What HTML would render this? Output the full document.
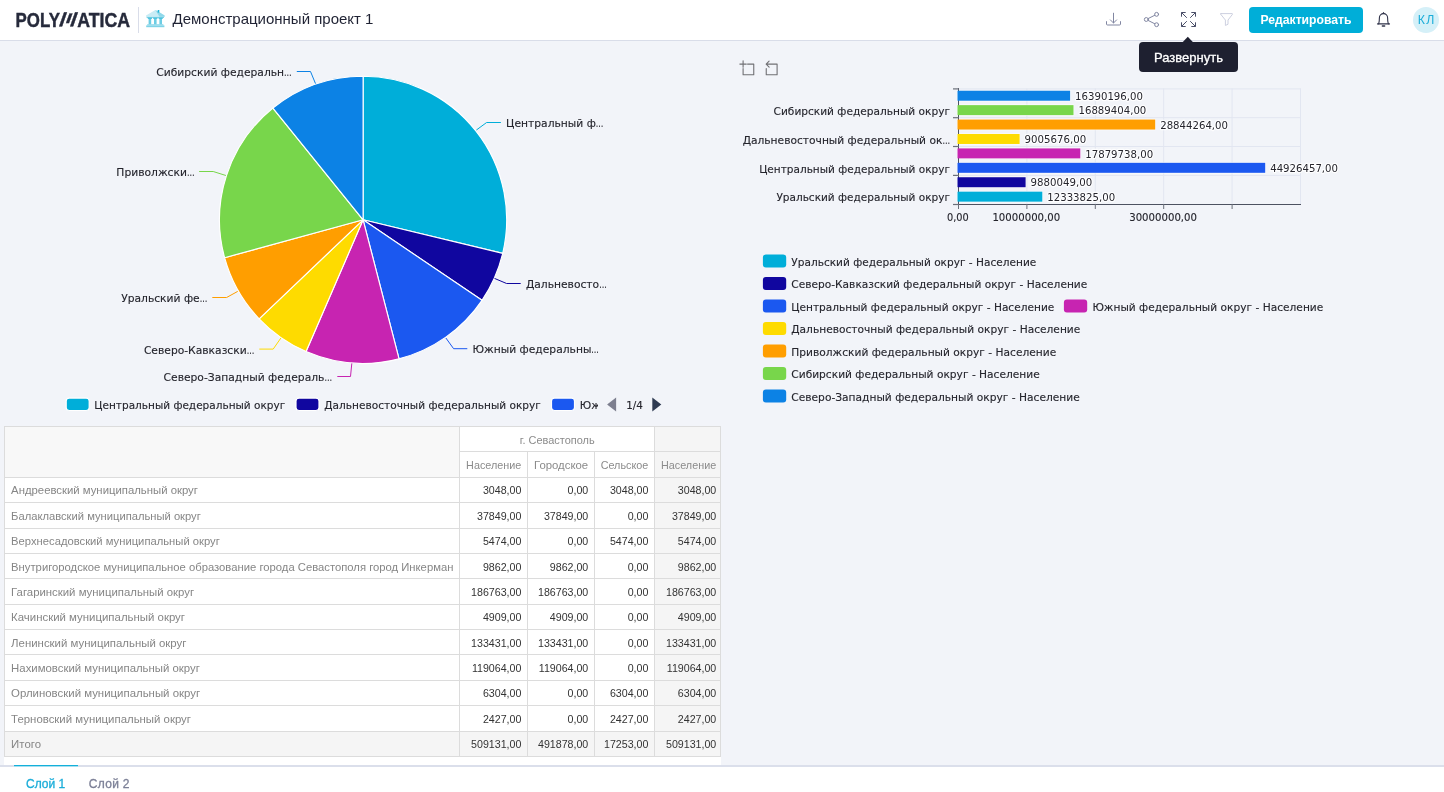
<!DOCTYPE html>
<html lang="ru">
<head>
<meta charset="utf-8">
<title>Демонстрационный проект 1</title>
<style>
*{box-sizing:border-box;margin:0;padding:0}
html,body{width:1444px;height:792px;overflow:hidden;background:#f2f4f9;font-family:"Liberation Sans", Arial, sans-serif;}
#app{position:relative;width:1444px;height:792px;overflow:hidden;background:#f2f4f9}
.abs{position:absolute}
#hdr{position:absolute;left:0;top:0;width:1444px;height:41px;background:#fff;border-bottom:1px solid #d9dde9}
#title{position:absolute;left:172.5px;top:9px;height:20px;line-height:20px;font-size:15px;color:#1f2233;white-space:nowrap}
#btn{position:absolute;left:1249px;top:7px;width:114px;height:26px;border-radius:4px;background:#00aed8;color:#fff;font-weight:bold;font-size:12.2px;line-height:27px;text-align:center;white-space:nowrap}
#ava{position:absolute;left:1413px;top:7px;width:26px;height:26px;border-radius:13px;background:#d5f0f8;color:#1badd9;font-size:12.3px;line-height:26px;text-align:center;letter-spacing:1.4px;padding-left:1.5px}
#tip{position:absolute;left:1139px;top:42px;width:99px;height:30px;border-radius:4px;background:#1e2030;color:#fff;font-size:13px;line-height:31.500px;text-align:center;white-space:nowrap;-webkit-text-stroke:0.3px #fff}
#foot{position:absolute;left:0;top:765px;width:1444px;height:27px;background:#fff;border-top:2px solid #dbdfeb}
#tabline{position:absolute;left:14px;top:765px;width:64px;height:2px;background:linear-gradient(#14b0da 0,#14b0da 50%,#a6dff0 50%,#a6dff0 100%)}
.tab{position:absolute;top:776px;height:16px;line-height:16px;font-size:12px;white-space:nowrap}
svg text{font-family:"DejaVu Sans","Liberation Sans",sans-serif;stroke:#25252d;stroke-width:.12px}
svg .lg text{font-family:"Liberation Sans", Arial, sans-serif;stroke:#262a3b;stroke-width:.45px}
svg.tbl text{font-family:"Liberation Sans", Arial, sans-serif;stroke:none}
.tb{position:absolute;background:#dcdcdc}
.tc{position:absolute;white-space:nowrap;overflow:hidden}
</style>
</head>
<body>
<div id="app">

<div id="hdr"></div>
<svg class="abs" style="left:0;top:0" width="170" height="40" viewBox="0 0 170 40">
<g class="lg" fill="#262a3b" stroke="#262a3b" stroke-width="0.45" font-weight="bold" font-size="21.1">
<text x="15.6" y="26.75" textLength="44.4" lengthAdjust="spacingAndGlyphs">POLY</text>
<text x="77.2" y="26.75" textLength="52.8" lengthAdjust="spacingAndGlyphs">ATICA</text>
</g>
<g class="lg" fill="#262a3b" font-weight="bold">
<text transform="translate(59.1,26.1) skewX(-6.5) scale(1.25,1)" font-size="19.1" style="stroke-width:.3px">/</text>
<text transform="translate(65.8,22.9) skewX(-1) scale(1.85,1)" font-size="13.2" style="stroke-width:.2px">/</text>
<text transform="translate(69.9,26.1) skewX(-6.5) scale(1.25,1)" font-size="19.1" style="stroke-width:.3px">/</text>
</g>
<rect x="138" y="7" width="1" height="26" fill="#d9dde9"/>
</svg>
<svg class="abs" style="left:145px;top:9px" width="21" height="19" viewBox="0 0 21 19">
<polygon points="1,6.6 10.3,0.9 19.6,6.6 19.6,7.8 1,7.8" fill="#c9ecf5"/>
<polygon points="10.3,0.9 13.2,2.6 19.6,6.6 19.6,7.8 14.5,7.8" fill="#8fd8ea"/>
<rect x="12.7" y="1" width="1.6" height="2.6" fill="#22b4d6"/>
<rect x="1.6" y="7.8" width="17.4" height="1.2" fill="#7fd3e7"/>
<rect x="3.6" y="9" width="2.6" height="6.6" fill="#6ccde4"/>
<rect x="9" y="9" width="2.6" height="6.6" fill="#6ccde4"/>
<rect x="14.4" y="9" width="2.6" height="6.6" fill="#6ccde4"/>
<rect x="2.8" y="8.6" width="4.2" height="1.3" fill="#4cc2de"/>
<rect x="8.2" y="8.6" width="4.2" height="1.3" fill="#4cc2de"/>
<rect x="13.6" y="8.6" width="4.2" height="1.3" fill="#4cc2de"/>
<rect x="2.2" y="15.2" width="16.2" height="1.2" fill="#8fd8ea"/>
<rect x="1.2" y="16.4" width="18.2" height="1.8" fill="#7fd3e7"/>
</svg>
<div id="title">Демонстрационный проект 1</div>
<svg class="abs" style="left:1100px;top:8px" width="140" height="24" viewBox="0 0 140 24" fill="none" stroke-linecap="round" stroke-linejoin="round">
<g stroke="#8287a2" stroke-width="1">
<path d="M13.5 5.2v9.800M10.400 11.900l3.100 3.100 3.100-3.100M6.500 13.600v2.400a1 1 0 0 0 1 1h12a1 1 0 0 0 1-1v-2.400"/>
</g>
<g stroke="#8287a2" stroke-width="1">
<circle cx="46.300" cy="11.500" r="1.950"/><circle cx="56.600" cy="6.350" r="1.950"/><circle cx="56.600" cy="16.700" r="1.950"/>
<path d="M48.100 10.600l6.700-3.350M48.100 12.400l6.700 3.400"/>
</g>
<g stroke="#4b4f68" stroke-width="1" stroke-linecap="butt" stroke-linejoin="miter">
<path d="M81.500 8.700v-4.200h4.200M81.500 4.500l5.300 5.300M95.500 8.700v-4.200h-4.200M95.500 4.500l-5.300 5.300M81.500 14.300v4.200h4.200M81.500 18.500l5.300-5.300M95.500 14.300v4.200h-4.200M95.500 18.500l-5.300-5.300"/>
</g>
<g stroke="#cdd0e0" stroke-width="1">
<path d="M121 5.600h11.200a.4.400 0 0 1 .3.650l-4.500 5.800v4.200l-2.600 1.200v-5.400l-4.700-5.800a.4.400 0 0 1 .3-.650z"/>
</g>
</svg>
<div id="btn">Редактировать</div>
<svg class="abs" style="left:1374px;top:9px" width="20" height="22" viewBox="0 0 20 22" fill="none" stroke="#30334a" stroke-width="1.1" stroke-linecap="round" stroke-linejoin="round">
<path d="M4.700 14.900C5.200 13 5.400 11.400 5.400 8.700A4.100 4.100 0 0 1 13.600 8.700C13.600 11.400 13.800 13 14.300 14.900"/>
<path d="M3.500 14.900H15.500"/>
<path d="M8.800 4.300L9.500 3.400L10.200 4.300" stroke-width="1"/>
<path d="M8.400 16.900h2.200" stroke-width="1.500"/>
</svg>
<div id="ava">КЛ</div>
<svg class="abs" style="left:1180px;top:35px" width="16" height="8" viewBox="1180 35 16 8"><polygon points="1182.3,42.5 1187.8,36.7 1193.3,42.5" fill="#1e2030"/></svg><div id="tip">Развернуть</div>
<svg class="abs" style="left:0;top:41px" width="726" height="385" viewBox="0 41 726 385">
<path d="M363.10 219.80L363.10 76.20A143.6 143.6 0 0 1 502.73 253.32Z" fill="#00aed9" stroke="#fff" stroke-width="1.15" stroke-linejoin="round"/>
<path d="M363.10 219.80L502.73 253.32A143.6 143.6 0 0 1 482.01 300.31Z" fill="#10069f" stroke="#fff" stroke-width="1.15" stroke-linejoin="round"/>
<path d="M363.10 219.80L482.01 300.31A143.6 143.6 0 0 1 399.05 358.83Z" fill="#1b58f0" stroke="#fff" stroke-width="1.15" stroke-linejoin="round"/>
<path d="M363.10 219.80L399.05 358.83A143.6 143.6 0 0 1 306.07 351.59Z" fill="#c724b1" stroke="#fff" stroke-width="1.15" stroke-linejoin="round"/>
<path d="M363.10 219.80L306.07 351.59A143.6 143.6 0 0 1 259.11 318.83Z" fill="#fedb00" stroke="#fff" stroke-width="1.15" stroke-linejoin="round"/>
<path d="M363.10 219.80L259.11 318.83A143.6 143.6 0 0 1 224.59 257.69Z" fill="#ff9e00" stroke="#fff" stroke-width="1.15" stroke-linejoin="round"/>
<path d="M363.10 219.80L224.59 257.69A143.6 143.6 0 0 1 272.92 108.04Z" fill="#78d64b" stroke="#fff" stroke-width="1.15" stroke-linejoin="round"/>
<path d="M363.10 219.80L272.92 108.04A143.6 143.6 0 0 1 363.10 76.20Z" fill="#0c82e5" stroke="#fff" stroke-width="1.15" stroke-linejoin="round"/>
<path d="M476.4 130.0L486.6 122.5L500.9 122.5" fill="none" stroke="#00aed9" stroke-width="1"/>
<text x="506.1" y="127.2" font-size="10.72" fill="#25252d">Центральный ф<tspan textLength="7.6" lengthAdjust="spacingAndGlyphs">…</tspan></text>
<path d="M494.5 278.4L506.6 283.5L520.7 283.5" fill="none" stroke="#10069f" stroke-width="1"/>
<text x="525.9" y="288.2" font-size="10.72" fill="#25252d">Дальневосто<tspan textLength="7.6" lengthAdjust="spacingAndGlyphs">…</tspan></text>
<path d="M445.9 338.0L453.6 348.7L467.3 348.7" fill="none" stroke="#1b58f0" stroke-width="1"/>
<text x="472.5" y="353.4" font-size="10.72" fill="#25252d">Южный федеральны<tspan textLength="7.6" lengthAdjust="spacingAndGlyphs">…</tspan></text>
<path d="M351.8 363.4L350.5 376.5L337.3 376.5" fill="none" stroke="#c724b1" stroke-width="1"/>
<text x="332" y="381.0" text-anchor="end" font-size="10.72" fill="#25252d">Северо-Западный федераль<tspan textLength="7.6" lengthAdjust="spacingAndGlyphs">…</tspan></text>
<path d="M280.9 338.0L273.2 349.1L259.3 349.1" fill="none" stroke="#fedb00" stroke-width="1"/>
<text x="254.3" y="354.0" text-anchor="end" font-size="10.72" fill="#25252d">Северо-Кавказски<tspan textLength="7.6" lengthAdjust="spacingAndGlyphs">…</tspan></text>
<path d="M237.7 291.4L226.6 297.5L212.3 297.5" fill="none" stroke="#ff9e00" stroke-width="1"/>
<text x="207.3" y="302.2" text-anchor="end" font-size="10.72" fill="#25252d">Уральский фе<tspan textLength="7.6" lengthAdjust="spacingAndGlyphs">…</tspan></text>
<path d="M225.9 175.5L213.2 171.5L199.1 171.5" fill="none" stroke="#78d64b" stroke-width="1"/>
<text x="194.5" y="176.3" text-anchor="end" font-size="10.72" fill="#25252d">Приволжски<tspan textLength="7.6" lengthAdjust="spacingAndGlyphs">…</tspan></text>
<path d="M315.5 83.6L310.5 71.5L296.8 71.5" fill="none" stroke="#0c82e5" stroke-width="1"/>
<text x="291.7" y="76.0" text-anchor="end" font-size="10.72" fill="#25252d">Сибирский федеральн<tspan textLength="7.6" lengthAdjust="spacingAndGlyphs">…</tspan></text>
<clipPath id="lc"><rect x="60" y="392" width="538" height="28"/></clipPath><g clip-path="url(#lc)">
<rect x="66.2" y="398.1" width="23.0" height="12.4" rx="3" ry="3" fill="#00aed9" stroke="#fff" stroke-width="1.2"/>
<text x="94.3" y="409.0" font-size="10.6" fill="#25252d" textLength="191" lengthAdjust="spacingAndGlyphs">Центральный федеральный округ</text>
<rect x="296.0" y="398.1" width="23.0" height="12.4" rx="3" ry="3" fill="#10069f" stroke="#fff" stroke-width="1.2"/>
<text x="324.3" y="409.0" font-size="10.6" fill="#25252d" textLength="216.6" lengthAdjust="spacingAndGlyphs">Дальневосточный федеральный округ</text>
<rect x="551.5" y="398.1" width="23.0" height="12.4" rx="3" ry="3" fill="#1b58f0" stroke="#fff" stroke-width="1.2"/>
<text x="579.8" y="409.0" font-size="10.6" fill="#25252d">Южный федеральный округ</text>
</g>
<polygon points="607.1,404.4 616.1,397.4 616.1,411.4" fill="#7d7f8f"/>
<polygon points="661.3,404.4 652.3,397.4 652.3,411.4" fill="#2f3b52"/>
<text x="634.6" y="409.0" text-anchor="middle" font-size="10.6" fill="#25252d" textLength="16.8" lengthAdjust="spacingAndGlyphs">1/4</text>
</svg>
<svg class="abs" style="left:726px;top:41px" width="718" height="385" viewBox="726 41 718 385">
<g fill="none" stroke="#707074" stroke-width="1.1" stroke-linejoin="round" stroke-linecap="round">
<g transform="translate(739.87,60.87) scale(0.2393)"><path d="M0,13.5h26.9 M13.5,26.9V0 M32.1,13.5H58V58H13.5 V32.1" vector-effect="non-scaling-stroke"/></g>
<g transform="translate(763.74,60.87) scale(0.2433,0.2393)"><path d="M22,1.4L9.9,13.5l12.3,12.3 M10.3,13.5H54.9v44.6 H10.3v-26" vector-effect="non-scaling-stroke"/></g>
</g>
<line x1="1026.9" y1="88.5" x2="1026.9" y2="204" stroke="#e2e6f1" stroke-width="1"/>
<line x1="1095.3" y1="88.5" x2="1095.3" y2="204" stroke="#e2e6f1" stroke-width="1"/>
<line x1="1163.7" y1="88.5" x2="1163.7" y2="204" stroke="#e2e6f1" stroke-width="1"/>
<line x1="1232.1" y1="88.5" x2="1232.1" y2="204" stroke="#e2e6f1" stroke-width="1"/>
<line x1="1300.5" y1="88.5" x2="1300.5" y2="204" stroke="#e2e6f1" stroke-width="1"/>
<line x1="958" y1="88.9" x2="1301" y2="88.9" stroke="#e2e6f1" stroke-width="1"/>
<line x1="958" y1="117.7" x2="1301" y2="117.7" stroke="#e2e6f1" stroke-width="1"/>
<line x1="958" y1="146.5" x2="1301" y2="146.5" stroke="#e2e6f1" stroke-width="1"/>
<line x1="958" y1="175.4" x2="1301" y2="175.4" stroke="#e2e6f1" stroke-width="1"/>
<rect x="957" y="90.01" width="113.6" height="11.4" fill="#fff" opacity="0.7"/>
<rect x="957" y="104.43" width="117.0" height="11.4" fill="#fff" opacity="0.7"/>
<rect x="957" y="118.85" width="198.7" height="11.4" fill="#fff" opacity="0.7"/>
<rect x="957" y="133.27" width="63.1" height="11.4" fill="#fff" opacity="0.7"/>
<rect x="957" y="147.69" width="123.8" height="11.4" fill="#fff" opacity="0.7"/>
<rect x="957" y="162.11" width="308.7" height="11.4" fill="#fff" opacity="0.7"/>
<rect x="957" y="176.53" width="69.1" height="11.4" fill="#fff" opacity="0.7"/>
<rect x="957" y="190.95" width="85.8" height="11.4" fill="#fff" opacity="0.7"/>
<line x1="958.5" y1="88" x2="958.5" y2="205" stroke="#4d5261" stroke-width="1"/>
<line x1="958" y1="204.5" x2="1301" y2="204.5" stroke="#4d5261" stroke-width="1"/>
<line x1="953" y1="88.9" x2="959" y2="88.9" stroke="#6b6f7a" stroke-width="1.2"/>
<line x1="953" y1="117.7" x2="959" y2="117.7" stroke="#6b6f7a" stroke-width="1.2"/>
<line x1="953" y1="146.5" x2="959" y2="146.5" stroke="#6b6f7a" stroke-width="1.2"/>
<line x1="953" y1="175.4" x2="959" y2="175.4" stroke="#6b6f7a" stroke-width="1.2"/>
<line x1="953" y1="204.5" x2="959" y2="204.5" stroke="#6b6f7a" stroke-width="1.2"/>
<line x1="958.5" y1="204" x2="958.5" y2="209" stroke="#6b6f7a" stroke-width="1"/>
<line x1="1026.9" y1="204" x2="1026.9" y2="209" stroke="#6b6f7a" stroke-width="1"/>
<line x1="1095.3" y1="204" x2="1095.3" y2="209" stroke="#6b6f7a" stroke-width="1"/>
<line x1="1163.7" y1="204" x2="1163.7" y2="209" stroke="#6b6f7a" stroke-width="1"/>
<line x1="1232.1" y1="204" x2="1232.1" y2="209" stroke="#6b6f7a" stroke-width="1"/>
<rect x="957.5" y="90.71" width="112.6" height="10" fill="#0c82e5"/>
<rect x="957.5" y="105.13" width="116.0" height="10" fill="#78d64b"/>
<rect x="957.5" y="119.55" width="197.7" height="10" fill="#ff9e00"/>
<rect x="957.5" y="133.97" width="62.1" height="10" fill="#fedb00"/>
<rect x="957.5" y="148.39" width="122.8" height="10" fill="#c724b1"/>
<rect x="957.5" y="162.81" width="307.7" height="10" fill="#1b58f0"/>
<rect x="957.5" y="177.23" width="68.1" height="10" fill="#10069f"/>
<rect x="957.5" y="191.65" width="84.8" height="10" fill="#00aed9"/>
<text x="1075.1" y="99.8" font-size="10.6" textLength="67.8" lengthAdjust="spacingAndGlyphs" style="fill:#25252d;stroke:rgba(255,255,255,.9);stroke-width:2.4px;stroke-linejoin:round;paint-order:stroke">16390196,00</text>
<text x="1078.5" y="114.2" font-size="10.6" textLength="67.8" lengthAdjust="spacingAndGlyphs" style="fill:#25252d;stroke:rgba(255,255,255,.9);stroke-width:2.4px;stroke-linejoin:round;paint-order:stroke">16889404,00</text>
<text x="1160.2" y="128.7" font-size="10.6" textLength="67.8" lengthAdjust="spacingAndGlyphs" style="fill:#25252d;stroke:rgba(255,255,255,.9);stroke-width:2.4px;stroke-linejoin:round;paint-order:stroke">28844264,00</text>
<text x="1024.6" y="143.1" font-size="10.6" textLength="61.6" lengthAdjust="spacingAndGlyphs" style="fill:#25252d;stroke:rgba(255,255,255,.9);stroke-width:2.4px;stroke-linejoin:round;paint-order:stroke">9005676,00</text>
<text x="1085.3" y="157.5" font-size="10.6" textLength="67.8" lengthAdjust="spacingAndGlyphs" style="fill:#25252d;stroke:rgba(255,255,255,.9);stroke-width:2.4px;stroke-linejoin:round;paint-order:stroke">17879738,00</text>
<text x="1270.2" y="171.9" font-size="10.6" textLength="67.8" lengthAdjust="spacingAndGlyphs" style="fill:#25252d;stroke:rgba(255,255,255,.9);stroke-width:2.4px;stroke-linejoin:round;paint-order:stroke">44926457,00</text>
<text x="1030.6" y="186.3" font-size="10.6" textLength="61.6" lengthAdjust="spacingAndGlyphs" style="fill:#25252d;stroke:rgba(255,255,255,.9);stroke-width:2.4px;stroke-linejoin:round;paint-order:stroke">9880049,00</text>
<text x="1047.3" y="200.8" font-size="10.6" textLength="67.8" lengthAdjust="spacingAndGlyphs" style="fill:#25252d;stroke:rgba(255,255,255,.9);stroke-width:2.4px;stroke-linejoin:round;paint-order:stroke">12333825,00</text>
<text x="950" y="114.8" text-anchor="end" font-size="10.6" fill="#25252d" textLength="176.4" lengthAdjust="spacingAndGlyphs">Сибирский федеральный округ</text>
<text x="950" y="143.7" text-anchor="end" font-size="10.68" fill="#25252d">Дальневосточный федеральный ок<tspan textLength="7.6" lengthAdjust="spacingAndGlyphs">…</tspan></text>
<text x="950" y="172.5" text-anchor="end" font-size="10.6" fill="#25252d" textLength="190.8" lengthAdjust="spacingAndGlyphs">Центральный федеральный округ</text>
<text x="950" y="201.3" text-anchor="end" font-size="10.6" fill="#25252d" textLength="173.6" lengthAdjust="spacingAndGlyphs">Уральский федеральный округ</text>
<text x="957.9" y="221.3" text-anchor="middle" font-size="10.6" fill="#25252d" textLength="21.8" lengthAdjust="spacingAndGlyphs">0,00</text>
<text x="1026.3" y="221.3" text-anchor="middle" font-size="10.6" fill="#25252d" textLength="67.8" lengthAdjust="spacingAndGlyphs">10000000,00</text>
<text x="1163.1" y="221.3" text-anchor="middle" font-size="10.6" fill="#25252d" textLength="67.8" lengthAdjust="spacingAndGlyphs">30000000,00</text>
<rect x="762.9" y="254.4" width="23.3" height="13.1" rx="3" ry="3" fill="#00aed9"/>
<text x="791.3" y="265.8" font-size="10.6" fill="#25252d" textLength="245" lengthAdjust="spacingAndGlyphs">Уральский федеральный округ - Население</text>
<rect x="762.9" y="276.9" width="23.3" height="13.1" rx="3" ry="3" fill="#10069f"/>
<text x="791.3" y="288.3" font-size="10.6" fill="#25252d" textLength="296" lengthAdjust="spacingAndGlyphs">Северо-Кавказский федеральный округ - Население</text>
<rect x="762.9" y="299.4" width="23.3" height="13.1" rx="3" ry="3" fill="#1b58f0"/>
<text x="791.3" y="310.8" font-size="10.6" fill="#25252d" textLength="263" lengthAdjust="spacingAndGlyphs">Центральный федеральный округ - Население</text>
<rect x="762.9" y="321.9" width="23.3" height="13.1" rx="3" ry="3" fill="#fedb00"/>
<text x="791.3" y="333.3" font-size="10.6" fill="#25252d" textLength="289" lengthAdjust="spacingAndGlyphs">Дальневосточный федеральный округ - Население</text>
<rect x="762.9" y="344.4" width="23.3" height="13.1" rx="3" ry="3" fill="#ff9e00"/>
<text x="791.3" y="355.8" font-size="10.6" fill="#25252d" textLength="265" lengthAdjust="spacingAndGlyphs">Приволжский федеральный округ - Население</text>
<rect x="762.9" y="366.9" width="23.3" height="13.1" rx="3" ry="3" fill="#78d64b"/>
<text x="791.3" y="378.3" font-size="10.6" fill="#25252d" textLength="248.5" lengthAdjust="spacingAndGlyphs">Сибирский федеральный округ - Население</text>
<rect x="762.9" y="389.4" width="23.3" height="13.1" rx="3" ry="3" fill="#0c82e5"/>
<text x="791.3" y="400.8" font-size="10.6" fill="#25252d" textLength="288.5" lengthAdjust="spacingAndGlyphs">Северо-Западный федеральный округ - Население</text>
<rect x="1063.9" y="299.4" width="23.3" height="13.1" rx="3" ry="3" fill="#c724b1"/>
<text x="1092.4" y="310.8" font-size="10.6" fill="#25252d" textLength="230.9" lengthAdjust="spacingAndGlyphs">Южный федеральный округ - Население</text>
</svg>
<div class="abs" style="left:4px;top:426px;width:717px;height:339px;background:#fff"></div>
<div class="abs" style="left:5px;top:427px;width:454px;height:50px;background:#f8f8f8"></div>
<div class="abs" style="left:655px;top:427px;width:65px;height:329px;background:#f5f5f5"></div>
<div class="abs" style="left:5px;top:732px;width:715px;height:24px;background:#f5f5f5"></div>
<div class="tb" style="left:4px;top:426px;width:717px;height:1px"></div>
<div class="tb" style="left:459px;top:451px;width:262px;height:1px"></div>
<div class="tb" style="left:4px;top:477px;width:717px;height:1px"></div>
<div class="tb" style="left:4px;top:502px;width:717px;height:1px"></div>
<div class="tb" style="left:4px;top:528px;width:717px;height:1px"></div>
<div class="tb" style="left:4px;top:553px;width:717px;height:1px"></div>
<div class="tb" style="left:4px;top:578px;width:717px;height:1px"></div>
<div class="tb" style="left:4px;top:604px;width:717px;height:1px"></div>
<div class="tb" style="left:4px;top:629px;width:717px;height:1px"></div>
<div class="tb" style="left:4px;top:654px;width:717px;height:1px"></div>
<div class="tb" style="left:4px;top:680px;width:717px;height:1px"></div>
<div class="tb" style="left:4px;top:705px;width:717px;height:1px"></div>
<div class="tb" style="left:4px;top:731px;width:717px;height:1px"></div>
<div class="tb" style="left:4px;top:756px;width:717px;height:1px"></div>
<div class="tb" style="left:4px;top:426px;width:1px;height:331px"></div>
<div class="tb" style="left:459px;top:426px;width:1px;height:331px"></div>
<div class="tb" style="left:527px;top:451px;width:1px;height:306px"></div>
<div class="tb" style="left:594px;top:451px;width:1px;height:306px"></div>
<div class="tb" style="left:654px;top:426px;width:1px;height:331px"></div>
<div class="tb" style="left:720px;top:426px;width:1px;height:331px"></div>
<svg class="abs tbl" style="left:0;top:420px" width="726" height="345" viewBox="0 420 726 345">
<text x="557.2" y="444" text-anchor="middle" font-size="11.3" fill="#8b8b8b" textLength="74.9" lengthAdjust="spacingAndGlyphs">г. Севастополь</text>
<text x="521.3" y="469" text-anchor="end" font-size="11.3" fill="#8b8b8b" textLength="55.2" lengthAdjust="spacingAndGlyphs">Население</text>
<text x="588.2" y="469" text-anchor="end" font-size="11.3" fill="#8b8b8b" textLength="54.2" lengthAdjust="spacingAndGlyphs">Городское</text>
<text x="648.3" y="469" text-anchor="end" font-size="11.3" fill="#8b8b8b" textLength="47.6" lengthAdjust="spacingAndGlyphs">Сельское</text>
<text x="716.2" y="469" text-anchor="end" font-size="11.3" fill="#8b8b8b" textLength="55.2" lengthAdjust="spacingAndGlyphs">Население</text>
<text x="11.1" y="494.0" font-size="11.3" fill="#868686" textLength="186.8" lengthAdjust="spacingAndGlyphs">Андреевский муниципальный округ</text>
<text x="521.4" y="494.0" text-anchor="end" font-size="10.65" fill="#333333">3048,00</text>
<text x="588.3" y="494.0" text-anchor="end" font-size="10.65" fill="#333333">0,00</text>
<text x="648.4" y="494.0" text-anchor="end" font-size="10.65" fill="#333333">3048,00</text>
<text x="716.3" y="494.0" text-anchor="end" font-size="10.65" fill="#333333">3048,00</text>
<text x="11.1" y="520.0" font-size="11.3" fill="#868686" textLength="189.7" lengthAdjust="spacingAndGlyphs">Балаклавский муниципальный округ</text>
<text x="521.4" y="520.0" text-anchor="end" font-size="10.65" fill="#333333">37849,00</text>
<text x="588.3" y="520.0" text-anchor="end" font-size="10.65" fill="#333333">37849,00</text>
<text x="648.4" y="520.0" text-anchor="end" font-size="10.65" fill="#333333">0,00</text>
<text x="716.3" y="520.0" text-anchor="end" font-size="10.65" fill="#333333">37849,00</text>
<text x="11.1" y="545.0" font-size="11.3" fill="#868686" textLength="208.7" lengthAdjust="spacingAndGlyphs">Верхнесадовский муниципальный округ</text>
<text x="521.4" y="545.0" text-anchor="end" font-size="10.65" fill="#333333">5474,00</text>
<text x="588.3" y="545.0" text-anchor="end" font-size="10.65" fill="#333333">0,00</text>
<text x="648.4" y="545.0" text-anchor="end" font-size="10.65" fill="#333333">5474,00</text>
<text x="716.3" y="545.0" text-anchor="end" font-size="10.65" fill="#333333">5474,00</text>
<text x="11.1" y="571.0" font-size="11.3" fill="#868686" textLength="442.3" lengthAdjust="spacingAndGlyphs">Внутригородское муниципальное образование города Севастополя город Инкерман</text>
<text x="521.4" y="571.0" text-anchor="end" font-size="10.65" fill="#333333">9862,00</text>
<text x="588.3" y="571.0" text-anchor="end" font-size="10.65" fill="#333333">9862,00</text>
<text x="648.4" y="571.0" text-anchor="end" font-size="10.65" fill="#333333">0,00</text>
<text x="716.3" y="571.0" text-anchor="end" font-size="10.65" fill="#333333">9862,00</text>
<text x="11.1" y="596.0" font-size="11.3" fill="#868686" textLength="183.0" lengthAdjust="spacingAndGlyphs">Гагаринский муниципальный округ</text>
<text x="521.4" y="596.0" text-anchor="end" font-size="10.65" fill="#333333">186763,00</text>
<text x="588.3" y="596.0" text-anchor="end" font-size="10.65" fill="#333333">186763,00</text>
<text x="648.4" y="596.0" text-anchor="end" font-size="10.65" fill="#333333">0,00</text>
<text x="716.3" y="596.0" text-anchor="end" font-size="10.65" fill="#333333">186763,00</text>
<text x="11.1" y="621.0" font-size="11.3" fill="#868686" textLength="173.9" lengthAdjust="spacingAndGlyphs">Качинский муниципальный округ</text>
<text x="521.4" y="621.0" text-anchor="end" font-size="10.65" fill="#333333">4909,00</text>
<text x="588.3" y="621.0" text-anchor="end" font-size="10.65" fill="#333333">4909,00</text>
<text x="648.4" y="621.0" text-anchor="end" font-size="10.65" fill="#333333">0,00</text>
<text x="716.3" y="621.0" text-anchor="end" font-size="10.65" fill="#333333">4909,00</text>
<text x="11.1" y="647.0" font-size="11.3" fill="#868686" textLength="175.3" lengthAdjust="spacingAndGlyphs">Ленинский муниципальный округ</text>
<text x="521.4" y="647.0" text-anchor="end" font-size="10.65" fill="#333333">133431,00</text>
<text x="588.3" y="647.0" text-anchor="end" font-size="10.65" fill="#333333">133431,00</text>
<text x="648.4" y="647.0" text-anchor="end" font-size="10.65" fill="#333333">0,00</text>
<text x="716.3" y="647.0" text-anchor="end" font-size="10.65" fill="#333333">133431,00</text>
<text x="11.1" y="672.0" font-size="11.3" fill="#868686" textLength="188.8" lengthAdjust="spacingAndGlyphs">Нахимовский муниципальный округ</text>
<text x="521.4" y="672.0" text-anchor="end" font-size="10.65" fill="#333333">119064,00</text>
<text x="588.3" y="672.0" text-anchor="end" font-size="10.65" fill="#333333">119064,00</text>
<text x="648.4" y="672.0" text-anchor="end" font-size="10.65" fill="#333333">0,00</text>
<text x="716.3" y="672.0" text-anchor="end" font-size="10.65" fill="#333333">119064,00</text>
<text x="11.1" y="697.0" font-size="11.3" fill="#868686" textLength="189.0" lengthAdjust="spacingAndGlyphs">Орлиновский муниципальный округ</text>
<text x="521.4" y="697.0" text-anchor="end" font-size="10.65" fill="#333333">6304,00</text>
<text x="588.3" y="697.0" text-anchor="end" font-size="10.65" fill="#333333">0,00</text>
<text x="648.4" y="697.0" text-anchor="end" font-size="10.65" fill="#333333">6304,00</text>
<text x="716.3" y="697.0" text-anchor="end" font-size="10.65" fill="#333333">6304,00</text>
<text x="11.1" y="723.0" font-size="11.3" fill="#868686" textLength="179.9" lengthAdjust="spacingAndGlyphs">Терновский муниципальный округ</text>
<text x="521.4" y="723.0" text-anchor="end" font-size="10.65" fill="#333333">2427,00</text>
<text x="588.3" y="723.0" text-anchor="end" font-size="10.65" fill="#333333">0,00</text>
<text x="648.4" y="723.0" text-anchor="end" font-size="10.65" fill="#333333">2427,00</text>
<text x="716.3" y="723.0" text-anchor="end" font-size="10.65" fill="#333333">2427,00</text>
<text x="11.1" y="748.0" font-size="11.3" fill="#868686" textLength="29.9" lengthAdjust="spacingAndGlyphs">Итого</text>
<text x="521.4" y="748.0" text-anchor="end" font-size="10.65" fill="#333333">509131,00</text>
<text x="588.3" y="748.0" text-anchor="end" font-size="10.65" fill="#333333">491878,00</text>
<text x="648.4" y="748.0" text-anchor="end" font-size="10.65" fill="#333333">17253,00</text>
<text x="716.3" y="748.0" text-anchor="end" font-size="10.65" fill="#333333">509131,00</text>
</svg>
<div id="foot"></div><div id="tabline"></div>
<div class="tab" style="left:26px;color:#1badd9;-webkit-text-stroke:.3px #1badd9">Слой 1</div>
<div class="tab" style="left:88.8px;color:#7b7f96;-webkit-text-stroke:.3px #7b7f96;letter-spacing:.3px">Слой 2</div>
</div>
</body>
</html>
